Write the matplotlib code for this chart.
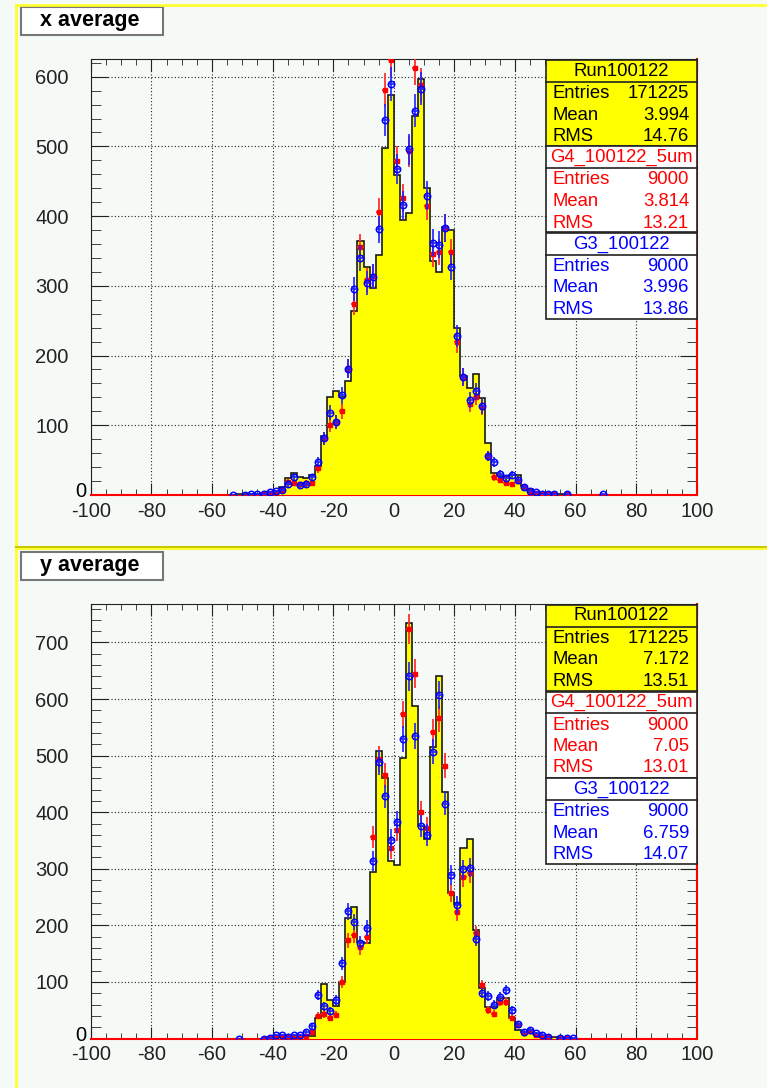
import numpy as np
import matplotlib
matplotlib.use("Agg")
import matplotlib.pyplot as plt
from matplotlib.patches import Rectangle
from matplotlib.lines import Line2D
from matplotlib.ticker import MultipleLocator

plt.rcParams['font.family'] = ['Liberation Sans', 'DejaVu Sans']

W, H = 767, 1088
BG = '#f5faf7'

# ---- x average ----
x_hist_lo = -54   # lower edge of first bin, bin width 2
x_hist = [0, 1, 1, 1, 2, 3, 4, 5, 11, 24, 32, 26, 24, 28, 41, 84, 140, 149, 140, 163,
          264, 364, 327, 297, 344, 498, 574, 459, 395, 405, 543, 596, 440, 335, 320,
          384, 380, 240, 171, 154, 174, 139, 75, 31, 27, 27, 29, 29, 13, 8, 4, 3, 2, 1, 1]

x_red_x = [-43, -41, -39, -37, -35, -33, -31, -29, -27, -25, -23, -21, -19, -17, -15, -13,
           -11, -9, -7, -5, -3, -1, 1, 3, 5, 7, 9, 11, 13, 15, 17, 19, 21, 23, 25, 27, 29,
           31, 33, 35, 37, 39, 41, 43, 45, 47, 49, 51, 53, 57]
x_red_y = [3, 3, 2, 7, 19, 17, 15, 17, 17, 38, 81, 100, 105, 120, 181, 274,
           356, 308, 314, 406, 581, 624, 479, 426, 493, 613, 588, 415, 346, 348, 383, 349,
           219, 169, 131, 141, 126, 56, 25, 22, 17, 15, 20, 11, 4, 3, 2, 2, 2, 1]

x_blue_x = [-53, -49, -47, -45, -43, -41, -39, -37, -35, -33, -31, -29, -27, -25, -23, -21,
            -19, -17, -15, -13, -11, -9, -7, -5, -3, -1, 1, 3, 5, 7, 9, 11, 13, 15, 17, 19,
            21, 23, 25, 27, 29, 31, 33, 35, 37, 39, 41, 43, 45, 47, 49, 51, 53, 57, 69]
x_blue_y = [0, 0, 1, 2, 2, 4, 5, 7, 15, 25, 14, 16, 25, 47, 81, 118,
            105, 143, 181, 296, 340, 304, 313, 381, 538, 589, 467, 416, 496, 551, 583, 429,
            362, 359, 383, 327, 228, 169, 136, 149, 128, 56, 47, 30, 24, 29, 22, 11, 5, 4,
            2, 1, 1, 1, 1]

x_stats = [("Run100122", [("Entries", "171225"), ("Mean", "3.994"), ("RMS", "14.76")]),
           ("G4_100122_5um", [("Entries", "9000"), ("Mean", "3.814"), ("RMS", "13.21")]),
           ("G3_100122", [("Entries", "9000"), ("Mean", "3.996"), ("RMS", "13.86")])]

# ---- y average ----
y_hist_lo = -42
y_hist = [1, 4, 5, 5, 5, 5, 5, 5, 37, 97, 68, 57, 100, 213, 232, 171, 169, 295, 509, 460,
          314, 307, 495, 734, 588, 376, 352, 516, 640, 436, 258, 238, 337, 352, 192, 90,
          55, 55, 72, 72, 37, 15, 11, 9, 8, 5, 3, 2, 1]

y_red_x = [-43, -41, -39, -37, -35, -33, -31, -29, -27, -25, -23, -21, -19, -17, -15, -13,
           -11, -9, -7, -5, -3, -1, 1, 3, 5, 7, 9, 11, 13, 15, 17, 19, 21, 23, 25, 27, 29,
           31, 33, 35, 37, 39, 41, 43, 45, 47, 49, 51, 55, 57]
y_red_y = [0, 1, 1, 2, 2, 2, 1, 5, 11, 40, 43, 37, 42, 100, 174, 183,
           161, 180, 356, 494, 465, 336, 369, 573, 724, 645, 400, 372, 541, 566, 482, 257,
           223, 285, 292, 186, 94, 50, 44, 65, 65, 37, 24, 10, 13, 6, 3, 2, 1, 1]

y_blue_x = [-51, -43, -41, -39, -37, -35, -33, -31, -29, -27, -25, -23, -21, -19, -17, -15,
            -13, -11, -9, -7, -5, -3, -1, 1, 3, 5, 7, 9, 11, 13, 15, 17, 19, 21, 23, 25, 27,
            29, 31, 33, 35, 37, 39, 41, 43, 45, 47, 49, 51, 55, 57, 59]
y_blue_y = [0, 0, 1, 6, 6, 3, 6, 6, 12, 22, 77, 57, 49, 68, 133, 225,
            206, 169, 195, 314, 488, 428, 351, 382, 529, 640, 535, 376, 360, 507, 607, 415,
            289, 236, 299, 302, 176, 81, 75, 60, 73, 86, 50, 25, 12, 15, 9, 7, 3, 1, 1, 1]

y_stats = [("Run100122", [("Entries", "171225"), ("Mean", "7.172"), ("RMS", "13.51")]),
           ("G4_100122_5um", [("Entries", "9000"), ("Mean", "7.05"), ("RMS", "13.01")]),
           ("G3_100122", [("Entries", "9000"), ("Mean", "6.759"), ("RMS", "14.07")])]


def fx(px):
    return px / W


def fy(py):
    return 1 - py / H


def prect(x0, y0, x1, y1, **kw):
    fig.add_artist(Rectangle((fx(x0), fy(y1)), fx(x1) - fx(x0), fy(y0) - fy(y1),
                             transform=fig.transFigure, **kw))


def pline(xs, ys, **kw):
    fig.add_artist(Line2D([fx(v) for v in xs], [fy(v) for v in ys],
                          transform=fig.transFigure, **kw))


def panel(top, bottom, title, title_y, lo, counts, rx, ry, bx, by, stats, ymax):
    ax = fig.add_axes([fx(90.8), fy(bottom), fx(696.8) - fx(90.8), fy(top) - fy(bottom)])
    ax.set_facecolor(BG)
    edges = lo + 2 * np.arange(len(counts) + 1)
    ax.stairs(counts, edges, fill=True, color='#ffff00', zorder=3)
    ax.stairs(counts, edges, color='#1a1a1a', lw=1.2, zorder=3.5)
    ry = np.array(ry, float)
    by = np.array(by, float)
    ax.errorbar(rx, ry, yerr=np.sqrt(ry), xerr=1, fmt='s', ms=2.8, color='red',
                ecolor='#ff3030', elinewidth=1.3, capsize=0, zorder=4)
    ax.errorbar(bx, by, yerr=np.sqrt(by), xerr=1, fmt='o', ms=4.6, mfc='none',
                mec='#0000ff', mew=1.1, color='#0000ff', ecolor='#2020ff',
                elinewidth=1.2, capsize=0, zorder=5)
    ax.set_xlim(-100, 100)
    ax.set_ylim(0, ymax)
    ax.xaxis.set_major_locator(MultipleLocator(20))
    ax.xaxis.set_minor_locator(MultipleLocator(5))
    ax.yaxis.set_major_locator(MultipleLocator(100))
    ax.yaxis.set_minor_locator(MultipleLocator(20))
    ax.grid(True, which='major', ls=(0, (1, 2)), color='#222222', lw=0.8)
    ax.set_axisbelow(True)
    ax.tick_params(which='both', direction='in', top=True, right=True,
                   colors='#222222', labelsize=14.5)
    ax.tick_params(axis='x', which='major', length=8.5, pad=5)
    ax.tick_params(axis='x', which='minor', length=4.3)
    ax.tick_params(axis='y', which='major', length=12, pad=16)
    ax.tick_params(axis='y', which='minor', length=7)
    ax.set_xticks(np.arange(-100, 101, 20))
    ax.set_xticklabels([str(v) for v in range(-100, 101, 20)])
    yt = np.arange(100, ymax, 100)
    ax.set_yticks(yt)
    ax.set_yticklabels([str(int(v)) for v in yt])
    ax.annotate('0', xy=(0, 0), xycoords=('axes fraction', 'data'), xytext=(-4, 3),
                textcoords='offset pixels', ha='right', va='center', fontsize=14.5)
    for s in ['left', 'top']:
        ax.spines[s].set_color('#222222')
    ax.spines['right'].set_color('red')
    ax.spines['bottom'].set_color('red')
    ax.spines['bottom'].set_linewidth(1.5)
    ax.spines['right'].set_linewidth(1.5)

    # title box
    prect(21, title_y, 163, title_y + 28, facecolor='white', edgecolor='#777777', lw=1.5)
    fig.text(fx(90), fy(title_y + 13.5), title, ha='center', va='center',
             fontsize=15.5, fontweight='bold')

    # stats box
    b0 = top + 1
    colors = ['black', '#ff0000', '#0000ff']
    fills = ['#ffff00', 'white', 'white']
    y = b0
    fs = 13.3
    for (name, rows), c, f in zip(stats, colors, fills):
        prect(546, y, 697, y + 86, facecolor=f, edgecolor='#222222', lw=1.2, zorder=10)
        pline([546, 697], [y + 21.5, y + 21.5], color='#222222', lw=1.2, zorder=11)
        fig.text(fx(621.5), fy(y + 11), name, ha='center', va='center', fontsize=fs,
                 color=c, zorder=12)
        for i, (lab, val) in enumerate(rows):
            ty = y + 33.5 + 21.5 * i
            fig.text(fx(553), fy(ty), lab, ha='left', va='center', fontsize=fs,
                     color=c, zorder=12)
            fig.text(fx(689), fy(ty), val, ha='right', va='center', fontsize=fs,
                     color=c, zorder=12)
        y += 86.5
    return ax


fig = plt.figure(figsize=(W / 100, H / 100), dpi=100)
fig.patch.set_facecolor(BG)

panel(59, 494.9, 'x average', 7, x_hist_lo, x_hist, x_red_x, x_red_y, x_blue_x, x_blue_y,
      x_stats, 625.4)
panel(604, 1038.5, 'y average', 552, y_hist_lo, y_hist, y_red_x, y_red_y, y_blue_x,
      y_blue_y, y_stats, 768)

# pad borders
pline([16, 767], [5, 5], color='#ffff30', lw=2)
pline([16, 16], [5, 1088], color='#ffff30', lw=2)
pline([16, 767], [547.3, 547.3], color='#c8c800', lw=1.5)
pline([16, 767], [549, 549], color='#ffff30', lw=1.5)

fig.savefig('out.png', dpi=100, facecolor=BG)
